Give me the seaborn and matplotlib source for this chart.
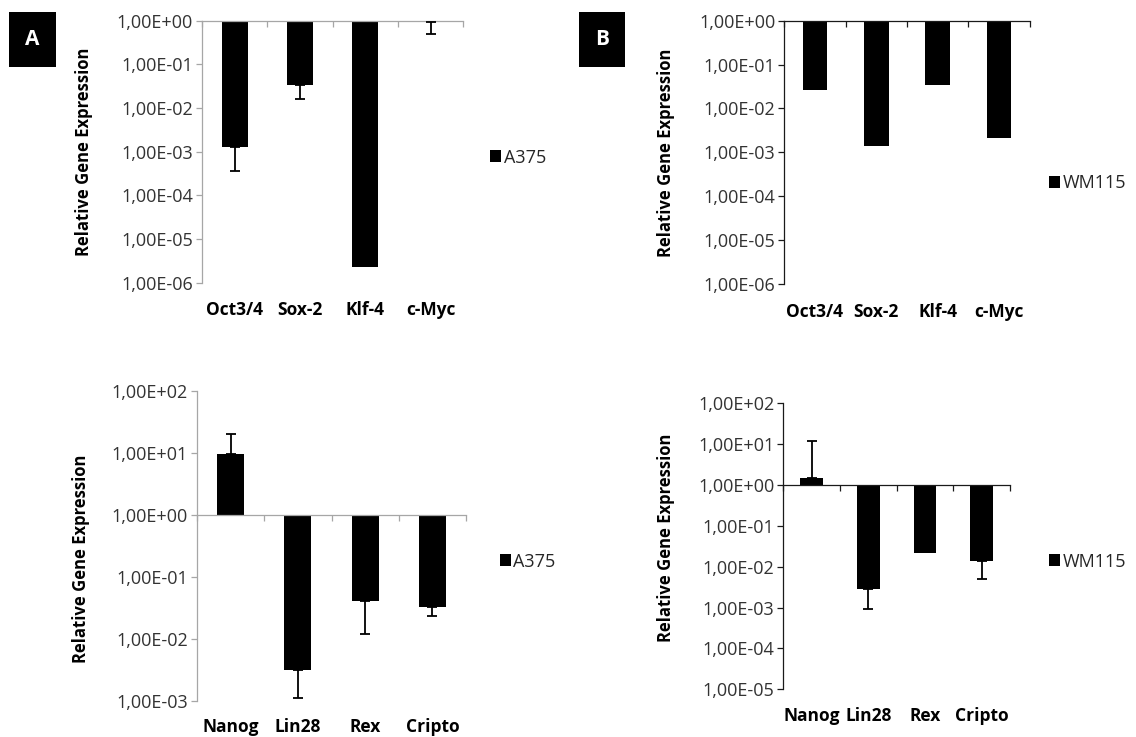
import numpy as np
import pandas as pd
import matplotlib
matplotlib.use("Agg")
import matplotlib.pyplot as plt
from matplotlib.patches import Rectangle
from matplotlib.ticker import FixedLocator, FuncFormatter
import seaborn as sns

# ---------------- data ----------------
genes_top = ["Oct3/4", "Sox-2", "Klf-4", "c-Myc"]
genes_bottom = ["Nanog", "Lin28", "Rex", "Cripto"]

a375_top = [1.28e-3, 3.3e-2, 2.3e-6, 0.92]
a375_top_err = [3.7e-4, 1.63e-2, None, 0.49]

wm115_top = [2.6e-2, 1.4e-3, 3.4e-2, 2.1e-3]
wm115_top_err = [None, None, None, None]

a375_bottom = [9.5, 3.1e-3, 4.0e-2, 3.2e-2]
a375_bottom_err = [20.0, 1.1e-3, 1.2e-2, 2.3e-2]

wm115_bottom = [1.5, 2.8e-3, 2.2e-2, 1.4e-2]
wm115_bottom_err = [11.7, 9.0e-4, None, 4.9e-3]

series_a = "A375"
series_b = "WM115"
panel_letters = ["A", "B"]
ylabel_text = "Relative Gene Expression"

# ---------------- style ----------------
sns.set_style("white")
plt.rcParams["font.family"] = ["Open Sans", "DejaVu Sans"]

W, H = 1136, 737
fig = plt.figure(figsize=(W / 100, H / 100), dpi=100)


def px_rect(left, right, top, bottom):
    return [left / W, (H - bottom) / H, (right - left) / W, (bottom - top) / H]


def fmt_sci(v, pos):
    return f"1,00E{int(round(v)):+03d}"


def draw(ax, cats, vals, errs, series, ylo, yhi, axcolor, leg_xy, ylab_xy, xpad):
    df = pd.DataFrame({"gene": cats, "logval": np.log10(vals), "line": [series] * len(cats)})
    sns.barplot(data=df, x="gene", y="logval", hue="line", palette=["black"],
                width=0.4, saturation=1, dodge=False, errorbar=None, ax=ax,
                legend=True, linewidth=0)
    for i, (v, e) in enumerate(zip(vals, errs)):
        if e is None:
            continue
        lv, le = np.log10(v), np.log10(e)
        yerr = [[lv - le], [0]] if le < lv else [[0], [le - lv]]
        ax.errorbar(i, lv, yerr=yerr, fmt="none", ecolor="black",
                    elinewidth=1.3, capsize=3.6, capthick=1.3, zorder=3)

    ax.set_xlim(-0.5, len(cats) - 0.5)
    ax.set_ylim(ylo, yhi)
    ax.yaxis.set_major_locator(FixedLocator(np.arange(ylo, yhi + 1)))
    ax.yaxis.set_major_formatter(FuncFormatter(fmt_sci))
    ax.set_xticks(np.arange(len(cats) + 1) - 0.5, minor=True)

    for s in ["bottom", "right"]:
        ax.spines[s].set_visible(False)
    for s in ["top", "left"]:
        ax.spines[s].set_visible(True)
        ax.spines[s].set_color(axcolor)
        ax.spines[s].set_linewidth(0.9)
    ax.spines["top"].set_position(("data", 0))

    ax.tick_params(axis="y", which="major", direction="out", length=4, width=0.9,
                   color=axcolor, labelsize=13, labelcolor="#333333", pad=2.5,
                   left=True, right=False)
    ax.tick_params(axis="x", which="major", length=0, bottom=True, top=False,
                   labelbottom=True, labeltop=False, labelsize=12.5, pad=xpad,
                   labelcolor="black")
    ax.tick_params(axis="x", which="minor", bottom=False, top=True,
                   direction="in", length=4.5, width=0.9, color=axcolor)
    for lbl in ax.get_xticklabels():
        lbl.set_fontweight("bold")

    ax.set_xlabel("")
    ax.set_ylabel(ylabel_text, fontsize=12, fontweight="bold", color="black")
    ax.yaxis.label.set_va("center")
    ax.yaxis.set_label_coords(*ylab_xy)

    sns.move_legend(ax, "center left", bbox_to_anchor=leg_xy, frameon=False,
                    title=None, fontsize=13, handlelength=0.6, handleheight=0.65,
                    handletextpad=0.15, borderpad=0, borderaxespad=0,
                    labelcolor="#262626")


gray = "#a6a6a6"
dark = "#1a1a1a"

ax1 = fig.add_axes(px_rect(202, 463.3, 20.7, 282.7))
draw(ax1, genes_top, a375_top, a375_top_err, series_a, -6, 0, gray,
     (1.103, 0.477), (-0.452, 0.5), 13.5)

ax2 = fig.add_axes(px_rect(784.3, 1029.5, 20.7, 284))
draw(ax2, genes_top, wm115_top, wm115_top_err, series_b, -6, 0, dark,
     (1.08, 0.382), (-0.484, 0.5), 13.5)

ax3 = fig.add_axes(px_rect(197, 466, 391, 700.7))
draw(ax3, genes_bottom, a375_bottom, a375_bottom_err, series_a, -3, 2, gray,
     (1.126, 0.449), (-0.433, 0.4575), 12.5)

ax4 = fig.add_axes(px_rect(783.3, 1010, 403.3, 689.3))
draw(ax4, genes_bottom, wm115_bottom, wm115_bottom_err, series_b, -5, 2, dark,
     (1.172, 0.446), (-0.519, 0.531), 12.5)

# panel letters
for letter, (x0, x1) in zip(panel_letters, [(9, 55.7), (578.5, 624.8)]):
    y0, y1 = 11.7, 66.7
    fig.patches.append(Rectangle((x0 / W, (H - y1) / H), (x1 - x0) / W, (y1 - y0) / H,
                                 transform=fig.transFigure, facecolor="black",
                                 edgecolor="none", zorder=5))
    fig.text((x0 + x1) / 2 / W, 1 - (y0 + y1) / 2 / H, letter, color="white",
             fontsize=15, fontweight="bold", ha="center", va="center", zorder=6)

fig.savefig("out.png", dpi=100, facecolor="white")
